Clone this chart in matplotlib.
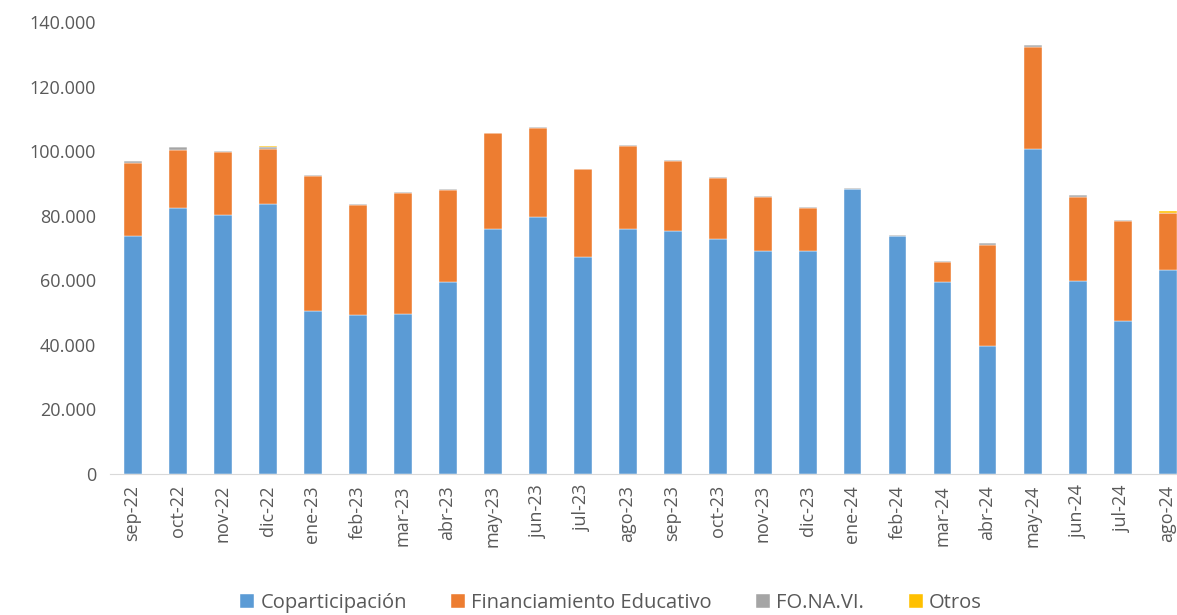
import matplotlib.pyplot as plt
from matplotlib.ticker import FuncFormatter
import numpy as np

meses = ['sep-22', 'oct-22', 'nov-22', 'dic-22', 'ene-23', 'feb-23', 'mar-23', 'abr-23',
         'may-23', 'jun-23', 'jul-23', 'ago-23', 'sep-23', 'oct-23', 'nov-23', 'dic-23',
         'ene-24', 'feb-24', 'mar-24', 'abr-24', 'may-24', 'jun-24', 'jul-24', 'ago-24']

# valores en miles
copart = [73.8, 82.3, 80.2, 83.6, 50.5, 49.1, 49.5, 59.4, 75.9, 79.5, 67.2, 75.9,
          75.2, 72.7, 69.0, 69.0, 88.4, 73.7, 59.4, 39.6, 100.6, 59.9, 47.3, 63.2]
fin_edu = [22.6, 18.2, 19.4, 17.1, 41.7, 34.1, 37.5, 28.5, 29.6, 27.6, 27.2, 25.6,
           21.8, 18.9, 16.9, 13.3, 0.0, 0.0, 6.4, 31.4, 31.7, 26.0, 31.0, 17.5]
fonavi = [0.5, 0.7, 0.4, 0.6, 0.4, 0.5, 0.3, 0.4, 0.2, 0.4, 0.2, 0.5,
          0.3, 0.4, 0.2, 0.4, 0.2, 0.2, 0.2, 0.5, 0.6, 0.5, 0.3, 0.2]
otros = [0.0, 0.0, 0.0, 0.4, 0.0, 0.0, 0.0, 0.0, 0.0, 0.0, 0.0, 0.0,
         0.0, 0.0, 0.0, 0.0, 0.0, 0.0, 0.0, 0.0, 0.0, 0.0, 0.0, 0.5]

series = [('Coparticipación', copart, '#5B9BD5'),
          ('Financiamiento Educativo', fin_edu, '#ED7D31'),
          ('FO.NA.VI.', fonavi, '#A5A5A5'),
          ('Otros', otros, '#FFC000')]

plt.rcParams['font.family'] = ['Open Sans', 'DejaVu Sans']
gris = '#595959'

fig = plt.figure(figsize=(11.77, 6.15), dpi=100)
ax = fig.add_axes([110 / 1177, 1 - 474 / 615, 1080 / 1177, 452 / 615])

x = np.arange(len(meses))
base = np.zeros(len(meses))
for nombre, vals, color in series:
    v = np.array(vals) * 1000
    ax.bar(x, v, 0.4, bottom=base, color=color, label=nombre,
           edgecolor='white', linewidth=0.3)
    base += v

ax.set_xlim(-0.5, len(meses) - 0.5)
ax.set_ylim(0, 140000)
ax.set_yticks(range(0, 140001, 20000))
ax.yaxis.set_major_formatter(FuncFormatter(lambda v, p: f'{int(v):,}'.replace(',', '.')))
ax.set_xticks(x)
ax.set_xticklabels(meses, rotation=90)
ax.tick_params(axis='both', length=0, labelsize=13, colors=gris)
ax.tick_params(axis='x', pad=8)
ax.tick_params(axis='y', pad=10)
for s in ['top', 'right', 'left']:
    ax.spines[s].set_visible(False)
ax.spines['bottom'].set_color('#D9D9D9')

fig.legend(loc='center', bbox_to_anchor=(0.519, 1 - 603 / 615), ncol=4, frameon=False,
           fontsize=14.5, labelcolor=gris, handlelength=0.7, handleheight=0.7,
           handletextpad=0.3, columnspacing=2.2)

fig.savefig('out.png', dpi=100)
